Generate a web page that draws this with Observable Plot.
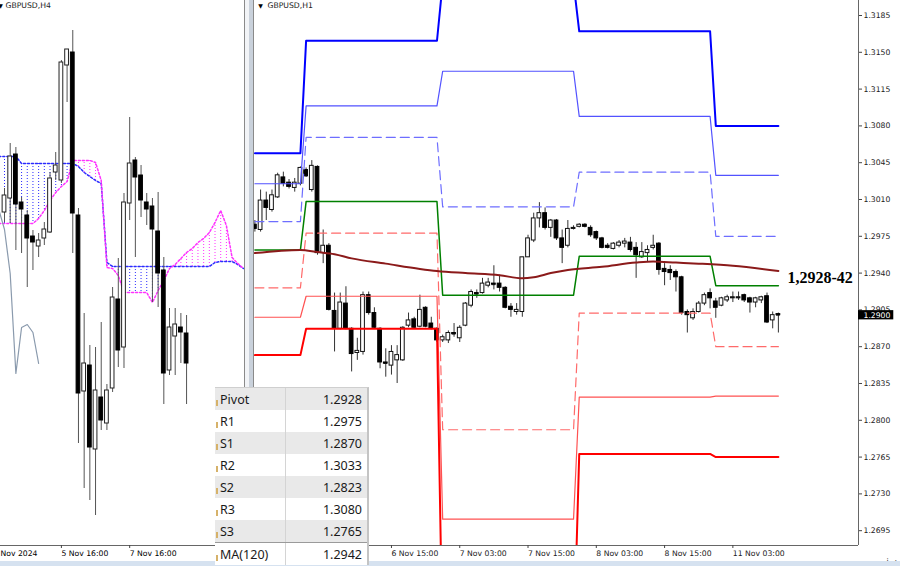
<!DOCTYPE html>
<html><head><meta charset="utf-8">
<script src="https://cdn.jsdelivr.net/npm/d3@7"></script>
<script src="https://cdn.jsdelivr.net/npm/@observablehq/plot@0.6"></script>
<style>
html,body{margin:0;padding:0;background:#fff;}
#wrap{position:relative;width:900px;height:566px;overflow:hidden;background:#fff;}
#wrap svg{position:absolute;top:0;left:0;}
.sep{position:absolute;top:0;height:561px;}
#strip{position:absolute;left:0;top:561px;width:900px;height:5px;background:#d6e2f0;}
#tbl{position:absolute;left:215px;top:387px;width:152px;border-top:1px solid #cfcfcf;border-right:2px solid #c4c4c4;font-family:"Noto Sans",sans-serif;font-size:12.5px;color:#1a1a1a;background:#fff;}
#tbl .row{position:relative;display:flex;height:22px;align-items:center;}
#tbl .row.g{background:#e9e9e9;}
#tbl .row.ma{border-top:1px solid #9a9a9a;height:22px;}
#tbl .lab{width:71px;padding-left:5px;box-sizing:border-box;border-right:1px solid #d4d4d4;height:100%;display:flex;align-items:center;}
#tbl .val{flex:1;text-align:right;padding-right:5px;}
#tbl .mk{position:absolute;left:1px;top:12px;width:2px;height:6px;background:#d6b26a;}
</style></head>
<body><div id="wrap"></div>
<script>
// ---------------- LEFT PANE: GBPUSD H4 ----------------
const h4Open  = [1.3033,1.3047,1.3091,1.3043,1.3030,1.3009,1.2999,1.3007,1.3013,1.3073,1.3065,1.3180,1.3193,1.3030,1.2854,1.2880,1.2796,1.2848,1.2822,1.2857,1.2946,1.2898,1.3042,1.3085,1.3070,1.3043,1.3039,1.3014,1.2975,1.2875,1.2909,1.2918,1.2912];
const h4High  = [1.3057,1.3102,1.3098,1.3048,1.3035,1.3015,1.3012,1.3023,1.3073,1.3093,1.3185,1.3196,1.3215,1.3037,1.2932,1.2900,1.2898,1.2923,1.2861,1.2958,1.2987,1.3052,1.3128,1.3088,1.3080,1.3052,1.3047,1.3053,1.2988,1.2937,1.2937,1.2932,1.2930];
const h4Low   = [1.3023,1.3022,1.2995,1.2992,1.2958,1.2975,1.2988,1.3000,1.3012,1.3065,1.3062,1.3143,1.2992,1.2802,1.2757,1.2745,1.2730,1.2815,1.2815,1.2853,1.2878,1.2877,1.3025,1.2988,1.3028,1.3020,1.2943,1.2938,1.2841,1.2870,1.2870,1.2882,1.2841];
const h4Close = [1.3050,1.3089,1.3041,1.3036,1.3007,1.3003,1.3005,1.3016,1.3067,1.3080,1.3183,1.3196,1.3032,1.2852,1.2882,1.2798,1.2855,1.2825,1.2855,1.2948,1.2895,1.3043,1.3082,1.3068,1.3045,1.3036,1.3016,1.2972,1.2872,1.2918,1.2921,1.2913,1.2882];
// Ichimoku cloud spans, bars -1 .. 42
const cloudStart = -1;
const senkouBlue = [1.3089,1.3089,1.3089,1.3089,1.3082,1.3082,1.3082,1.3082,1.3082,1.3082,1.3082,1.3082,1.3082,1.3082,1.3079,1.3073,1.3069,1.3065,1.3062,1.2983,1.2979,1.2979,1.2979,1.2979,1.2979,1.2979,1.2979,1.2979,1.2979,1.2979,1.2979,1.2979,1.2979,1.2979,1.2979,1.2979,1.2979,1.2979,1.2983,1.2984,1.2984,1.2984,1.2981,1.2977];
const senkouPink = [1.3022,1.3022,1.3022,1.3022,1.3022,1.3022,1.3022,1.3027,1.3035,1.3045,1.3053,1.3059,1.3064,1.3085,1.3085,1.3085,1.3085,1.3083,1.3065,1.2978,1.2977,1.2970,1.2953,1.2953,1.2953,1.2953,1.2953,1.2943,1.2955,1.2965,1.2977,1.2981,1.2987,1.2993,1.2997,1.3003,1.3007,1.3013,1.3023,1.3035,1.3020,1.2988,1.2982,1.2977];
const chikouShift = 26;
const h4TickIndex = [-2, 10, 22];
const h4TickLabels = ["4 Nov 2024", "5 Nov 16:00", "7 Nov 16:00"];

// ---------------- RIGHT PANE: GBPUSD H1 ----------------
const h1Open  = [1.2986,1.2981,1.3009,1.3000,1.3012,1.3031,1.3026,1.3021,1.3025,1.3038,1.3019,1.3041,1.2959,1.2966,1.2904,1.2887,1.2911,1.2887,1.2864,1.2865,1.2919,1.2902,1.2887,1.2855,1.2852,1.2857,1.2857,1.2890,1.2896,1.2889,1.2907,1.2892,1.2887,1.2876,1.2876,1.2883,1.2878,1.2890,1.2909,1.2921,1.2921,1.2928,1.2930,1.2930,1.2926,1.2908,1.2903,1.2903,1.2955,1.2971,1.2992,1.2997,1.2983,1.2990,1.2973,1.2966,1.2982,1.2984,1.2986,1.2983,1.2979,1.2973,1.2966,1.2963,1.2966,1.2968,1.2969,1.2964,1.2955,1.2959,1.2964,1.2968,1.2944,1.2943,1.2941,1.2936,1.2903,1.2897,1.2903,1.2911,1.2921,1.2913,1.2909,1.2914,1.2916,1.2916,1.2919,1.2916,1.2912,1.2914,1.2918,1.2895,1.2901];
const h1High  = [1.2990,1.3019,1.3017,1.3019,1.3035,1.3036,1.3029,1.3030,1.3041,1.3040,1.3047,1.3042,1.2981,1.2968,1.2921,1.2921,1.2927,1.2888,1.2878,1.2922,1.2922,1.2907,1.2888,1.2868,1.2871,1.2871,1.2889,1.2902,1.2898,1.2919,1.2908,1.2898,1.2888,1.2881,1.2885,1.2892,1.2890,1.2912,1.2924,1.2924,1.2935,1.2935,1.2947,1.2938,1.2927,1.2911,1.2911,1.2955,1.2976,1.2997,1.3007,1.3002,1.2991,1.2991,1.2981,1.2990,1.2985,1.2987,1.2987,1.2985,1.2980,1.2974,1.2968,1.2969,1.2971,1.2973,1.2974,1.2969,1.2969,1.2966,1.2976,1.2969,1.2949,1.2947,1.2943,1.2937,1.2905,1.2906,1.2913,1.2921,1.2925,1.2916,1.2917,1.2919,1.2922,1.2922,1.2920,1.2917,1.2917,1.2918,1.2921,1.2903,1.2902];
const h1Low   = [1.2979,1.2979,1.2990,1.2998,1.3011,1.3022,1.3020,1.3017,1.3023,1.3031,1.3017,1.2957,1.2949,1.2904,1.2865,1.2886,1.2886,1.2846,1.2857,1.2862,1.2900,1.2887,1.2849,1.2841,1.2843,1.2835,1.2856,1.2888,1.2887,1.2888,1.2888,1.2886,1.2874,1.2874,1.2873,1.2879,1.2874,1.2889,1.2907,1.2916,1.2920,1.2926,1.2924,1.2922,1.2906,1.2898,1.2900,1.2898,1.2955,1.2969,1.2983,1.2981,1.2974,1.2971,1.2949,1.2964,1.2981,1.2983,1.2983,1.2974,1.2971,1.2963,1.2963,1.2962,1.2964,1.2964,1.2960,1.2935,1.2954,1.2950,1.2962,1.2938,1.2928,1.2933,1.2922,1.2900,1.2883,1.2895,1.2902,1.2909,1.2906,1.2897,1.2908,1.2912,1.2912,1.2914,1.2912,1.2902,1.2907,1.2911,1.2892,1.2887,1.2883];
const h1Close = [1.2982,1.3009,1.3002,1.3014,1.3033,1.3025,1.3022,1.3026,1.3040,1.3032,1.3042,1.2959,1.2966,1.2905,1.2887,1.2912,1.2887,1.2863,1.2866,1.2919,1.2902,1.2888,1.2855,1.2854,1.2865,1.2862,1.2888,1.2895,1.2888,1.2905,1.2889,1.2887,1.2876,1.2879,1.2883,1.2882,1.2888,1.2911,1.2922,1.2920,1.2930,1.2931,1.2929,1.2926,1.2907,1.2905,1.2905,1.2955,1.2973,1.2992,1.2997,1.2983,1.2990,1.2973,1.2964,1.2982,1.2983,1.2986,1.2984,1.2976,1.2973,1.2964,1.2964,1.2968,1.2969,1.2970,1.2962,1.2957,1.2960,1.2962,1.2966,1.2943,1.2941,1.2940,1.2936,1.2902,1.2900,1.2903,1.2911,1.2919,1.2916,1.2907,1.2916,1.2917,1.2917,1.2917,1.2914,1.2912,1.2916,1.2917,1.2893,1.2900,1.2900];
// daily pivot levels: days start at bar indices
const dayStart = [0, 9, 33, 57, 81];
const pivR3 = [1.3054, 1.3161, 1.3216, 1.3170, 1.3080];
const pivR2 = [1.3025, 1.3099, 1.3132, 1.3089, 1.3033];
const pivR1 = [1.2989, 1.3069, 1.3003, 1.3036, 1.2975];
const pivP  = [1.2962, 1.3008, 1.2919, 1.2956, 1.2928];
const pivS1 = [1.2926, 1.2978, 1.2791, 1.2902, 1.2870];
const pivS2 = [1.2898, 1.2918, 1.2706, 1.2822, 1.2823];
const pivS3 = [1.2862, 1.2887, 1.2578, 1.2768, 1.2765];
// MA(120) sampled at bar indices
const maIndex = [0, 8, 11, 14, 17, 23, 29, 32, 37, 43, 47, 49, 52, 55, 61, 67, 70, 74, 78, 84, 92];
const maValue = [1.2959, 1.2962, 1.2960, 1.2958, 1.2954, 1.2949, 1.2944, 1.2942, 1.2940, 1.2938, 1.2935, 1.2936, 1.2940, 1.2943, 1.2946, 1.2950, 1.2951, 1.2950, 1.2949, 1.2947, 1.2942];
const h1TickIndex = [24, 36, 48, 60, 72, 84];
const h1TickLabels = ["6 Nov 15:00", "7 Nov 03:00", "7 Nov 15:00", "8 Nov 03:00", "8 Nov 15:00", "11 Nov 03:00"];
const priceTicks = [1.3185,1.3150,1.3115,1.3080,1.3045,1.3010,1.2975,1.2940,1.2905,1.2870,1.2835,1.2800,1.2765,1.2730,1.2695];
const annotation = "1,2928-42";

// ---------------- TABLE ----------------
const levelNames  = ["Pivot", "R1", "S1", "R2", "S2", "R3", "S3", "MA(120)"];
const levelValues = ["1.2928", "1.2975", "1.2870", "1.3033", "1.2823", "1.3080", "1.2765", "1.2942"];

// ================= build =================
const FONT = "DejaVu Sans";
const wrap = document.getElementById("wrap");

const h4 = h4Open.map((o, i) => ({i, o, h: h4High[i], l: h4Low[i], c: h4Close[i]}));
const cloud = senkouBlue.map((b, k) => ({i: k + cloudStart, blue: b, pink: senkouPink[k]}));
const chikou = h4Close.map((c, k) => ({i: k - chikouShift, v: c}));
const BLUE = "#2b2bff", PINK = "#ff33ff";
const bw = 0.33;

const left = Plot.plot({
  width: 244, height: 566, marginLeft: 0, marginRight: 0, marginTop: 0, marginBottom: 21,
  x: {domain: [-0.703, 42.18], axis: null},
  y: {domain: [1.2700, 1.3245], axis: null},
  style: {fontFamily: FONT, fontSize: "7.7px", color: "#000", background: "#fff"},
  marks: [
    Plot.ruleX(cloud.filter(d => d.blue >= d.pink), {x: "i", y1: "blue", y2: "pink", stroke: BLUE, strokeDasharray: "1,2", clip: true}),
    Plot.ruleX(cloud.filter(d => d.blue < d.pink), {x: "i", y1: "blue", y2: "pink", stroke: PINK, strokeDasharray: "1,2", clip: true}),
    Plot.line(cloud, {x: "i", y: "blue", stroke: BLUE, strokeDasharray: "2,2", clip: true}),
    Plot.line(cloud, {x: "i", y: "pink", stroke: PINK, strokeDasharray: "2,2", clip: true}),
    Plot.line(chikou, {x: "i", y: "v", stroke: "#8a9aad", strokeWidth: 1.2, clip: true}),
    Plot.ruleX(h4, {x: "i", y1: "l", y2: "h", stroke: "#555"}),
    Plot.rect(h4.filter(d => d.c >= d.o), {x1: d => d.i - bw, x2: d => d.i + bw, y1: "o", y2: "c", fill: "white", stroke: "#222"}),
    Plot.rect(h4.filter(d => d.c < d.o), {x1: d => d.i - bw, x2: d => d.i + bw, y1: "o", y2: "c", fill: "black", stroke: "black"}),
    Plot.ruleY([1.2700], {stroke: "#666"}),
    Plot.axisX(h4TickIndex, {tickFormat: d => h4TickLabels[h4TickIndex.indexOf(d)], tickSize: 3, tickPadding: 2, textAnchor: "start", stroke: "#444"}),
    Plot.text(["▼"], {frameAnchor: "top-left", dx: 0, dy: 3, fontSize: 6, lineAnchor: "top", textAnchor: "middle", fill: "#000"}),
    Plot.text(["GBPUSD,H4"], {frameAnchor: "top-left", dx: 5, dy: 2.5, lineAnchor: "top", textAnchor: "start", fill: "#222"})
  ]
});

const h1 = h1Open.map((o, i) => ({i, o, h: h1High[i], l: h1Low[i], c: h1Close[i]}));
const dayOf = i => { let d = 0; dayStart.forEach((s, k) => { if (i >= s) d = k; }); return d; };
const ma = maIndex.map((i, k) => ({i, v: maValue[k]}));
const xMax = 106.08;
const last = h1[h1.length - 1];
const levelStyles = [
  {vals: pivR3, stroke: "#0000ff", w: 2},
  {vals: pivR2, stroke: "#5252ff", w: 1.2},
  {vals: pivR1, stroke: "#6e6eff", w: 1.2, dash: "9,5"},
  {vals: pivP,  stroke: "#008000", w: 1.5},
  {vals: pivS1, stroke: "#ff6a6a", w: 1.2, dash: "9,5"},
  {vals: pivS2, stroke: "#ff5252", w: 1.2},
  {vals: pivS3, stroke: "#ff0000", w: 2}
];

const right = Plot.plot({
  width: 900, height: 566, marginLeft: 254, marginRight: 42, marginTop: 0, marginBottom: 21,
  x: {domain: [-0.0703, xMax]},
  y: {domain: [1.268091, 1.319927]},
  style: {fontFamily: FONT, fontSize: "7.7px", color: "#000", background: "#fff", overflow: "visible"},
  marks: [
    Plot.ruleX(h1, {x: "i", y1: "l", y2: "h", stroke: "#333"}),
    Plot.rect(h1.filter(d => d.c >= d.o), {x1: d => d.i - bw, x2: d => d.i + bw, y1: "o", y2: "c", fill: "white", stroke: "#111"}),
    Plot.rect(h1.filter(d => d.c < d.o), {x1: d => d.i - bw, x2: d => d.i + bw, y1: "o", y2: "c", fill: "black", stroke: "black"}),
    Plot.ruleY(h1.filter(d => Math.abs(d.c - d.o) < 0.00012), {y: "c", x1: d => d.i - bw, x2: d => d.i + bw, stroke: "#111"}),
    ...levelStyles.map(s => Plot.line(h1, {x: "i", y: d => s.vals[dayOf(d.i)], stroke: s.stroke, strokeWidth: s.w, strokeDasharray: s.dash, clip: true})),
    Plot.line(ma, {x: "i", y: "v", stroke: "#8b1a1a", strokeWidth: 2, curve: "monotone-x"}),
    Plot.ruleY([1.268091], {stroke: "#666"}),
    Plot.ruleX([xMax], {stroke: "#666"}),
    Plot.axisY(priceTicks, {anchor: "right", tickFormat: d => d.toFixed(4), tickSize: 3, tickPadding: 2, stroke: "#444", fill: "#222"}),
    Plot.axisX(h1TickIndex, {tickFormat: d => h1TickLabels[h1TickIndex.indexOf(d)], tickSize: 3, tickPadding: 2, textAnchor: "start", stroke: "#444", fill: "#222"}),
    Plot.rect([last], {x1: () => xMax, x2: () => xMax + 6.2, y1: d => d.c - 0.00045, y2: d => d.c + 0.00043, fill: "black"}),
    Plot.text([last], {x: () => xMax, y: "c", text: d => d.c.toFixed(4), dx: 5, textAnchor: "start", fill: "white"}),
    Plot.text([last], {x: "i", y: () => (pivP[pivP.length - 1] + maValue[maValue.length - 1]) / 2, text: () => annotation, dx: 9, textAnchor: "start", fontFamily: "Liberation Serif", fontWeight: "bold", fontSize: 16, fill: "#000"}),
    Plot.text(["▼"], {frameAnchor: "top-left", dx: 6, dy: 3, fontSize: 6, lineAnchor: "top", textAnchor: "middle", fill: "#000"}),
    Plot.text(["GBPUSD,H1"], {frameAnchor: "top-left", dx: 13, dy: 2.5, lineAnchor: "top", textAnchor: "start", fill: "#222"})
  ]
});

wrap.appendChild(right);
wrap.appendChild(left);

function div(cls, id, css) { const d = document.createElement("div"); if (cls) d.className = cls; if (id) d.id = id; if (css) d.style.cssText = css; wrap.appendChild(d); return d; }
div("sep", null, "left:244px;width:1px;background:#8a8a8a;");
div("sep", null, "left:245px;width:4px;background:#f2f4f7;");
div("sep", null, "left:249px;width:4px;background:#c9d1db;");
div("sep", null, "left:253px;width:1px;background:#8a8a8a;");
div(null, "strip");

const tbl = div(null, "tbl");
levelNames.forEach((name, k) => {
  const row = document.createElement("div");
  row.className = "row" + (k % 2 === 0 && k < 7 ? " g" : "") + (k === 7 ? " ma" : "");
  row.innerHTML = `<span class="mk"></span><div class="lab">${name}</div><div class="val">${levelValues[k]}</div>`;
  tbl.appendChild(row);
});
</script>
</body></html>
